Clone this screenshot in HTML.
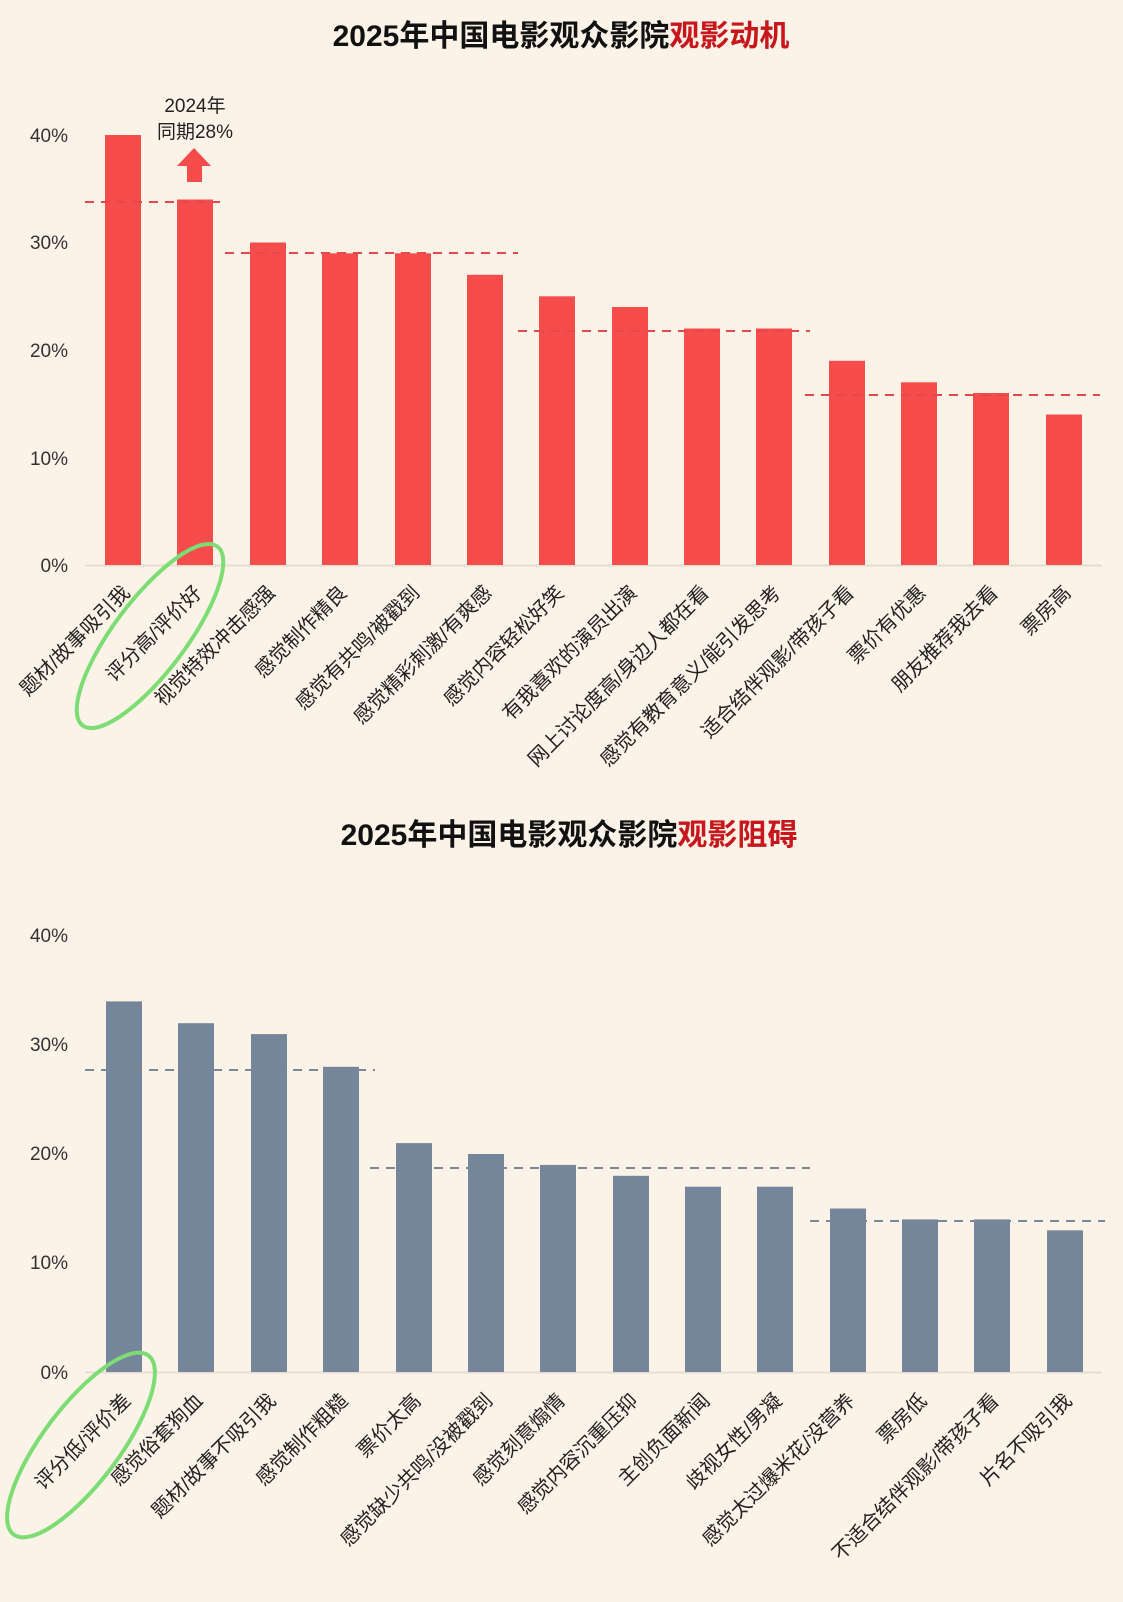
<!DOCTYPE html>
<html><head><meta charset="utf-8"><style>
html,body{margin:0;padding:0;background:#fcf3e8;}
svg{display:block;}
text{font-family:"Liberation Sans","Noto Sans CJK SC",sans-serif;}
</style></head><body>
<svg width="1123" height="1602" viewBox="0 0 1123 1602" xmlns="http://www.w3.org/2000/svg">
<rect width="1123" height="1602" fill="#fcf3e8"/>
<!-- TOP -->
<text x="561" y="46" text-anchor="middle" font-size="30" font-weight="bold" fill="#111">2025年中国电影观众影院<tspan fill="#c8161d">观影动机</tspan></text>
<g font-size="19" fill="#333" text-anchor="end">
<text x="68" y="142">40%</text><text x="68" y="249">30%</text><text x="68" y="357">20%</text><text x="68" y="465">10%</text><text x="68" y="572">0%</text>
</g>
<line x1="85" y1="565.5" x2="1102" y2="565.5" stroke="#e6ddd2" stroke-width="2"/>
<g fill="#f64c4b">
<rect x="105" y="135" width="36" height="430"/>
<rect x="177" y="199.5" width="36" height="365.5"/>
<rect x="250" y="242.5" width="36" height="322.5"/>
<rect x="322" y="253.3" width="36" height="311.7"/>
<rect x="395" y="253.3" width="36" height="311.7"/>
<rect x="467" y="274.8" width="36" height="290.2"/>
<rect x="539" y="296.3" width="36" height="268.7"/>
<rect x="612" y="307" width="36" height="258"/>
<rect x="684" y="328.5" width="36" height="236.5"/>
<rect x="756" y="328.5" width="36" height="236.5"/>
<rect x="829" y="360.8" width="36" height="204.2"/>
<rect x="901" y="382.3" width="36" height="182.7"/>
<rect x="973" y="393" width="36" height="172"/>
<rect x="1046" y="414.5" width="36" height="150.5"/>
</g>
<g stroke="#e5474a" stroke-width="2" stroke-dasharray="9,7">
<line x1="85" y1="202" x2="220" y2="202"/>
<line x1="225" y1="253" x2="518" y2="253"/>
<line x1="518" y1="331" x2="810" y2="331"/>
<line x1="805" y1="395" x2="1100" y2="395"/>
</g>
<text x="195" y="112" text-anchor="middle" font-size="19" fill="#222">2024年</text>
<text x="195" y="138" text-anchor="middle" font-size="19" fill="#222">同期28%</text>
<polygon points="194,148 211,166 202,166 202,182 187,182 187,166 177,166" fill="#f64c4b"/>
<g font-size="20" fill="#222" text-anchor="end">
<text transform="translate(131,594) rotate(-45)">题材/故事吸引我</text>
<text transform="translate(203,594) rotate(-45)">评分高/评价好</text>
<text transform="translate(276,594) rotate(-45)">视觉特效冲击感强</text>
<text transform="translate(348,594) rotate(-45)">感觉制作精良</text>
<text transform="translate(421,594) rotate(-45)">感觉有共鸣/被戳到</text>
<text transform="translate(493,594) rotate(-45)">感觉精彩刺激/有爽感</text>
<text transform="translate(565,594) rotate(-45)">感觉内容轻松好笑</text>
<text transform="translate(638,594) rotate(-45)">有我喜欢的演员出演</text>
<text transform="translate(710,594) rotate(-45)">网上讨论度高/身边人都在看</text>
<text transform="translate(782,594) rotate(-45)">感觉有教育意义/能引发思考</text>
<text transform="translate(855,594) rotate(-45)">适合结伴观影/带孩子看</text>
<text transform="translate(927,594) rotate(-45)">票价有优惠</text>
<text transform="translate(999,594) rotate(-45)">朋友推荐我去看</text>
<text transform="translate(1072,594) rotate(-45)">票房高</text>
</g>
<ellipse cx="150" cy="636" rx="112" ry="36" transform="rotate(-53 150 636)" fill="none" stroke="#7ddc73" stroke-width="4"/>
<!-- BOTTOM -->
<text x="569" y="845" text-anchor="middle" font-size="30" font-weight="bold" fill="#111">2025年中国电影观众影院<tspan fill="#c8161d">观影阻碍</tspan></text>
<g font-size="19" fill="#333" text-anchor="end">
<text x="68" y="942">40%</text><text x="68" y="1051">30%</text><text x="68" y="1160">20%</text><text x="68" y="1269">10%</text><text x="68" y="1379">0%</text>
</g>
<line x1="85" y1="1372.5" x2="1102" y2="1372.5" stroke="#e6ddd2" stroke-width="2"/>
<g fill="#76869a">
<rect x="106" y="1001.4" width="36" height="370.6"/>
<rect x="178" y="1023.2" width="36" height="348.8"/>
<rect x="251" y="1034.1" width="36" height="337.9"/>
<rect x="323" y="1066.8" width="36" height="305.2"/>
<rect x="396" y="1143.1" width="36" height="228.9"/>
<rect x="468" y="1154" width="36" height="218"/>
<rect x="540" y="1164.9" width="36" height="207.1"/>
<rect x="613" y="1175.8" width="36" height="196.2"/>
<rect x="685" y="1186.7" width="36" height="185.3"/>
<rect x="757" y="1186.7" width="36" height="185.3"/>
<rect x="830" y="1208.5" width="36" height="163.5"/>
<rect x="902" y="1219.4" width="36" height="152.6"/>
<rect x="974" y="1219.4" width="36" height="152.6"/>
<rect x="1047" y="1230.3" width="36" height="141.7"/>
</g>
<g stroke="#7b869a" stroke-width="2" stroke-dasharray="9,7">
<line x1="85" y1="1070" x2="375" y2="1070"/>
<line x1="370" y1="1168" x2="810" y2="1168"/>
<line x1="810" y1="1221" x2="1105" y2="1221"/>
</g>
<g font-size="20" fill="#222" text-anchor="end">
<text transform="translate(132,1402) rotate(-45)">评分低/评价差</text>
<text transform="translate(204,1402) rotate(-45)">感觉俗套狗血</text>
<text transform="translate(277,1402) rotate(-45)">题材/故事不吸引我</text>
<text transform="translate(349,1402) rotate(-45)">感觉制作粗糙</text>
<text transform="translate(422,1402) rotate(-45)">票价太高</text>
<text transform="translate(494,1402) rotate(-45)">感觉缺少共鸣/没被戳到</text>
<text transform="translate(566,1402) rotate(-45)">感觉刻意煽情</text>
<text transform="translate(639,1402) rotate(-45)">感觉内容沉重压抑</text>
<text transform="translate(711,1402) rotate(-45)">主创负面新闻</text>
<text transform="translate(783,1402) rotate(-45)">歧视女性/男凝</text>
<text transform="translate(856,1402) rotate(-45)">感觉太过爆米花/没营养</text>
<text transform="translate(928,1402) rotate(-45)">票房低</text>
<text transform="translate(1000,1402) rotate(-45)">不适合结伴观影/带孩子看</text>
<text transform="translate(1073,1402) rotate(-45)">片名不吸引我</text>
</g>
<ellipse cx="81" cy="1445" rx="112" ry="38" transform="rotate(-53 81 1445)" fill="none" stroke="#7ddc73" stroke-width="4"/>
</svg>
</body></html>
